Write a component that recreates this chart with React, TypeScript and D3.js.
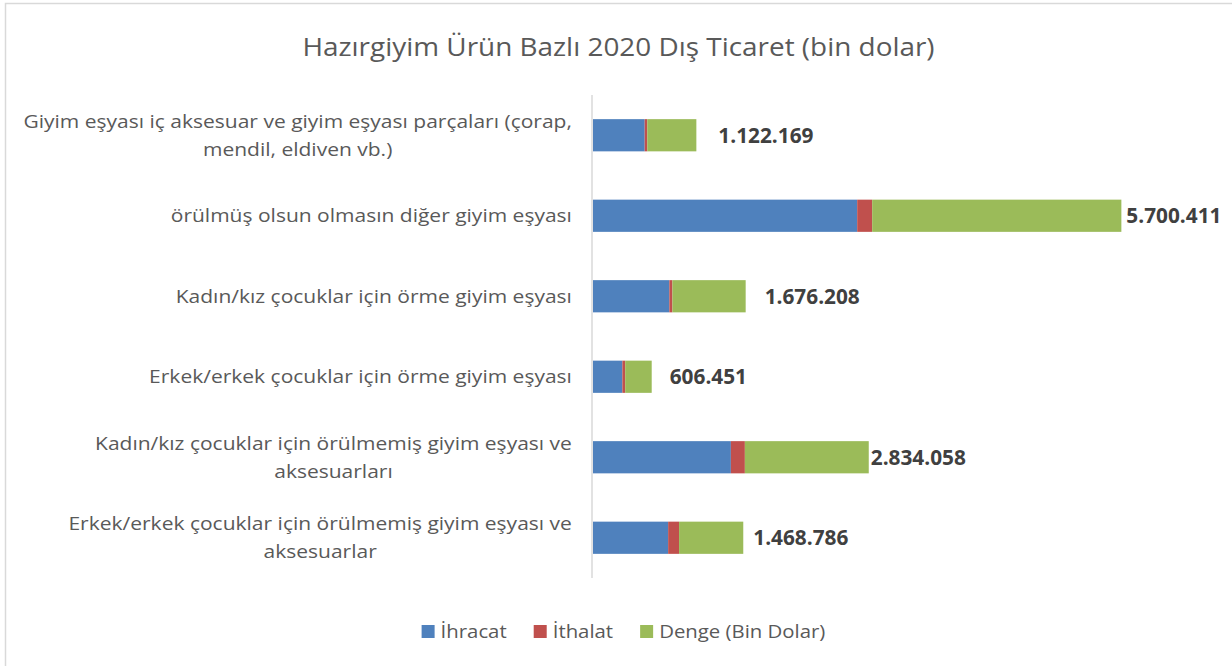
import React, { useMemo } from "react";
import * as d3 from "d3";

const categories: string[][] = [
  ["Giyim eşyası iç aksesuar ve giyim eşyası parçaları (çorap,", "mendil, eldiven vb.)"],
  ["örülmüş olsun olmasın diğer giyim eşyası"],
  ["Kadın/kız çocuklar için örme giyim eşyası"],
  ["Erkek/erkek çocuklar için örme giyim eşyası"],
  ["Kadın/kız çocuklar için örülmemiş giyim eşyası ve", "aksesuarları"],
  ["Erkek/erkek çocuklar için örülmemiş giyim eşyası ve", "aksesuarlar"],
];
const ihracat = [1182169, 6043411, 1746208, 671451, 3154058, 1718786];
const ithalat = [60000, 343000, 70000, 65000, 320000, 250000];
const denge = [1122169, 5700411, 1676208, 606451, 2834058, 1468786];
const seriesNames = ["İhracat", "İthalat", "Denge (Bin Dolar)"];
const colors = ["#4F81BD", "#C0504D", "#9BBB59"];
const labelDx = [22, 5, 19, 18, 2, 10];

const title = "Hazırgiyim Ürün Bazlı 2020 Dış Ticaret (bin dolar)";
const FONT = "'Open Sans', sans-serif";
const SX = 1.13;

function measure(text: string, font: string): number {
  const c = document.createElement("canvas").getContext("2d");
  if (!c) return text.length * 9;
  c.font = font;
  return c.measureText(text).width;
}

function SText(props: { x: number; y: number; anchor?: string; size: number; fill: string; children: any; weight?: string; sx?: number }) {
  return (
    <text
      transform={`translate(${props.x},${props.y}) scale(${props.sx ?? SX},1)`}
      dy="0.35em"
      textAnchor={props.anchor || "start"}
      fontSize={props.size}
      fontWeight={props.weight}
      fill={props.fill}
    >
      {props.children}
    </text>
  );
}

export default function App() {
  const W = 1232, H = 666;
  const x0 = 593;
  const keys = categories.map((_, i) => String(i));
  const y = d3.scaleBand<string>().domain(keys).range([95, 578]).paddingInner(0.6).paddingOuter(0.3);
  const x = d3.scaleLinear().domain([0, 14000000]).range([x0, 1205]);

  const rows = categories.map((_, i) => ({ key: String(i), ihr: ihracat[i], ith: ithalat[i], den: denge[i] }));
  const stack = d3.stack<any>().keys(["ihr", "ith", "den"]);
  const series = stack(rows);

  const fmt = (v: number) => d3.format(",")(v).replace(/,/g, ".");

  const catSize = 18.6;
  const catFont = `${catSize}px ${FONT}`;
  const blocks = useMemo(() => categories.map((lines) => SX * Math.max(...lines.map((l) => measure(l, catFont)))), []);

  const legSize = 18.5;
  const legSX = 1.1;
  const legendItems = seriesNames.map((n) => ({ n, w: legSX * measure(n, `${legSize}px ${FONT}`) }));
  const sq = 13, gapSq = 6, gapItem = 27;
  const legendTotal = legendItems.reduce((a, it) => a + sq + gapSq + it.w, 0) + gapItem * (legendItems.length - 1);
  let lx = 623.5 - legendTotal / 2;
  const legendPos = legendItems.map((it) => {
    const p = lx;
    lx += sq + gapSq + it.w + gapItem;
    return p;
  });

  return (
    <svg width={W} height={H} style={{ position: "absolute", left: 0, top: 0, background: "#fff" }} fontFamily={FONT}>
      <rect x={5.5} y={3.5} width={W + 20} height={H + 20} fill="#fff" stroke="#d9d9d9" strokeWidth={1.5} />
      <SText x={618.5} y={47} anchor="middle" size={24.7} fill="#595959">{title}</SText>

      {series.map((s, si) => (
        <g key={si} fill={colors[si]}>
          {s.map((d, i) => (
            <rect key={i} x={x(d[0])} y={y(String(i))!} width={x(d[1]) - x(d[0])} height={y.bandwidth()} />
          ))}
        </g>
      ))}

      <line x1={x0 - 1} x2={x0 - 1} y1={95} y2={578} stroke="#d9d9d9" strokeWidth={1.5} />

      {categories.map((lines, i) => {
        const cy = y(String(i))! + y.bandwidth() / 2;
        const right = 572;
        const cx = right - blocks[i] / 2;
        const lh = 28;
        return lines.map((l, li) => (
          <SText key={i + "-" + li} x={cx} y={cy + (li - (lines.length - 1) / 2) * lh} anchor="middle" size={catSize} fill="#595959">
            {l}
          </SText>
        ));
      })}

      {series[2].map((d, i) => (
        <text key={i} x={x(d[1]) + labelDx[i]} y={y(String(i))! + y.bandwidth() / 2} dy="0.36em" fontSize={20.8} fontWeight="bold" fill="#404040">
          {fmt(denge[i])}
        </text>
      ))}

      {legendItems.map((it, i) => (
        <g key={i}>
          <rect x={legendPos[i]} y={625} width={sq} height={sq} fill={colors[i]} />
          <SText x={legendPos[i] + sq + gapSq} y={631.5} size={legSize} fill="#595959" sx={legSX}>{it.n}</SText>
        </g>
      ))}
    </svg>
  );
}
